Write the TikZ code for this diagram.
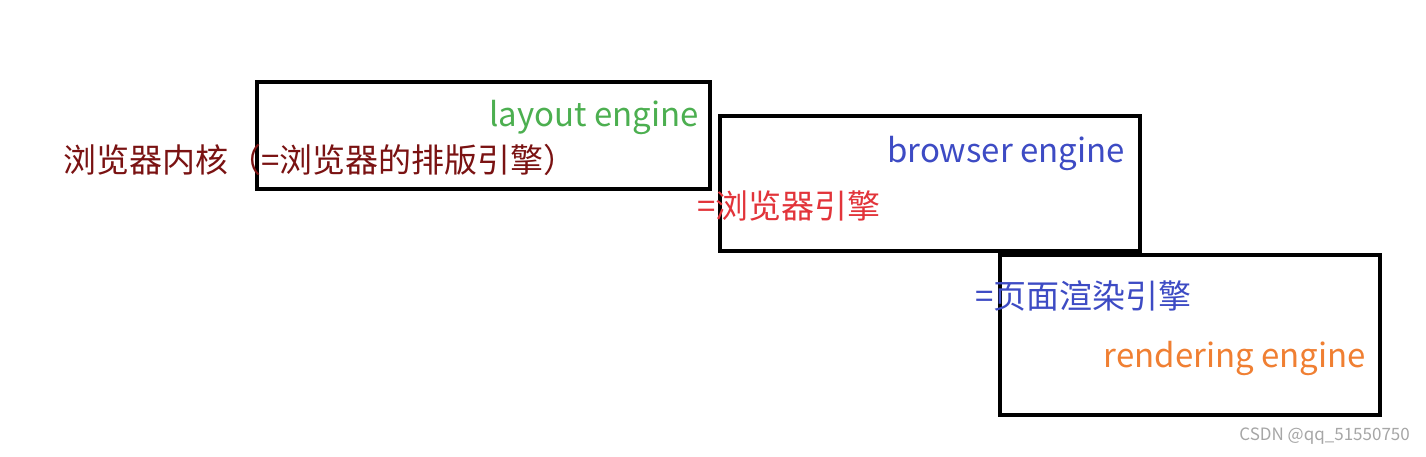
\documentclass[tikz,border=0pt]{standalone}
\usepackage{fontspec}
\setmainfont{Noto Sans CJK SC}
\definecolor{cgreen}{HTML}{4CAF50}
\definecolor{cdred}{HTML}{7A1212}
\definecolor{cblue}{HTML}{3D4BC4}
\definecolor{cred}{HTML}{E2343A}
\definecolor{corange}{HTML}{F07F32}
\begin{document}
\begin{tikzpicture}[x=1pt,y=-1pt,
  box/.style={draw=black,line width=4pt},
  lbl/.style={inner sep=0pt,font=\fontsize{33}{36}\selectfont}]
\useasboundingbox[fill=white] (0,0) rectangle (1426,456);
\draw[box] (257,82) rectangle (710,189);
\draw[box] (720,116) rectangle (1140,251);
\draw[box] (1000,255) rectangle (1380,415);
\node[lbl,text=cgreen,anchor=east] (l1) at (699,117) {layout engine};
\node[lbl,text=cdred,anchor=west] (l2) at (63,160) {浏览器内核（=浏览器的排版引擎）};
\node[lbl,text=cblue,anchor=east] (l3) at (1125,153) {browser engine};
\node[lbl,text=cred,anchor=west] (l4) at (697,206) {=浏览器引擎};
\node[lbl,text=cblue,anchor=west] (l5) at (975,296) {=页面渲染引擎};
\node[lbl,text=corange,anchor=east] (l6) at (1366,358) {rendering engine};
\node[inner sep=0pt,text=gray!70,anchor=east,font=\fontsize{17}{20}\selectfont] (w) at (1410,436) {CSDN @qq\_51550750};
\end{tikzpicture}
\end{document}
